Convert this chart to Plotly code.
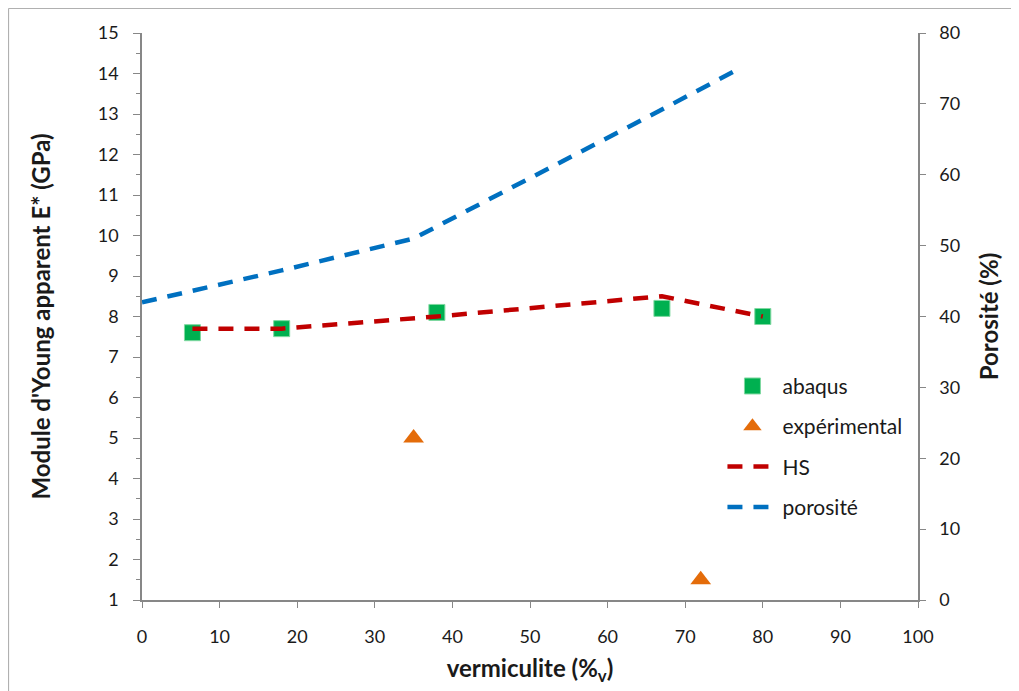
import plotly.graph_objects as go

# Data
abaqus_x = [6.5, 18, 38, 67, 80]
abaqus_y = [7.6, 7.7, 8.1, 8.2, 8.0]

exp_x = [35, 72]
exp_y = [5.0, 1.5]

hs_x = [6.5, 18, 38, 67, 80]
hs_y = [7.7, 7.7, 8.0, 8.5, 8.0]

poro_x = [0, 18, 35, 50, 67, 77]
poro_y = [42, 46.5, 51, 59.5, 69.2, 75]

x_ticks = list(range(0, 101, 10))
y_ticks = list(range(1, 16, 1))
y2_ticks = list(range(0, 81, 10))

FONT = "Lato"
AX = "#878787"

W, H = 1019, 691
ML, MR, MT, MB = 134, 109, 25, 99
PW = W - ML - MR
PH = H - MT - MB

fig = go.Figure()
fig.add_trace(go.Scatter(x=abaqus_x, y=abaqus_y, mode="markers", name="abaqus",
                         legendgroup="a",
                         marker=dict(symbol="square", size=16, color="#00B050",
                                     line=dict(color="#7FD8A0", width=1))))
fig.add_trace(go.Scatter(x=exp_x, y=exp_y, mode="markers", name="expérimental",
                         legendgroup="b",
                         marker=dict(symbol="triangle-up", size=18, color="#E46C0A")))
fig.add_trace(go.Scatter(x=hs_x, y=hs_y, mode="lines", name="HS",
                         legendgroup="c",
                         line=dict(color="#C00000", width=4.5, dash="15px,11px")))
fig.add_trace(go.Scatter(x=poro_x, y=poro_y, mode="lines", name="porosité",
                         legendgroup="d", yaxis="y2",
                         line=dict(color="#0070C0", width=4.5, dash="15px,11px")))

fig.update_layout(
    width=W, height=H,
    margin=dict(l=ML, r=MR, t=MT, b=MB),
    paper_bgcolor="white", plot_bgcolor="white",
    font=dict(family=FONT, size=17, color="#1a1a1a"),
    showlegend=True,
    legend=dict(x=0.748, y=0.413, xanchor="left", yanchor="top",
                bgcolor="rgba(0,0,0,0)", font=dict(size=21, family=FONT),
                tracegroupgap=10, itemwidth=50),
    xaxis=dict(range=[0, 100], tickvals=x_ticks, showgrid=False, zeroline=False,
               showline=True, linecolor=AX, linewidth=1.5,
               ticks="outside", ticklen=6, tickcolor=AX, tickwidth=1.2,
               ticklabelstandoff=14,
               tickfont=dict(size=18, family=FONT),
               title=dict(text="<b>vermiculite (%<sub>v</sub>)</b>",
                          font=dict(size=24, family=FONT), standoff=14)),
    yaxis=dict(range=[1, 15], tickvals=y_ticks, showgrid=False, zeroline=False,
               showline=True, linecolor=AX, linewidth=1.5,
               ticks="outside", ticklen=7, tickcolor=AX, tickwidth=1.2,
               ticklabelstandoff=11,
               minor=dict(dtick=0.5, ticks="outside", ticklen=4, tickcolor=AX, tickwidth=1),
               tickfont=dict(size=18, family=FONT),
               title=dict(text="<b>Module d'Young apparent E* (GPa)</b>",
                          font=dict(size=24, family=FONT), standoff=40)),
    yaxis2=dict(range=[0, 80], tickvals=y2_ticks, overlaying="y", side="right",
                showgrid=False, zeroline=False,
                showline=True, linecolor=AX, linewidth=1.5,
                ticks="outside", ticklen=6, tickcolor=AX, tickwidth=1.2,
                ticklabelstandoff=10,
                tickfont=dict(size=18, family=FONT),
                title=dict(text="<b>Porosité (%)</b>",
                           font=dict(size=24, family=FONT), standoff=22)),
)

# outer chart border (left and top edges visible in the reference)
fig.add_shape(type="line", xref="paper", yref="paper",
              x0=(0.5 - ML) / PW, x1=(0.5 - ML) / PW,
              y0=-MB / PH, y1=1 + (MT - 0.5) / PH,
              line=dict(color="#B0B0B0", width=1.2), layer="below")
fig.add_shape(type="line", xref="paper", yref="paper",
              x0=(0.5 - ML) / PW, x1=(W - ML) / PW,
              y0=1 + (MT - 0.5) / PH, y1=1 + (MT - 0.5) / PH,
              line=dict(color="#B0B0B0", width=1.2), layer="below")

fig.write_html("out.html")
